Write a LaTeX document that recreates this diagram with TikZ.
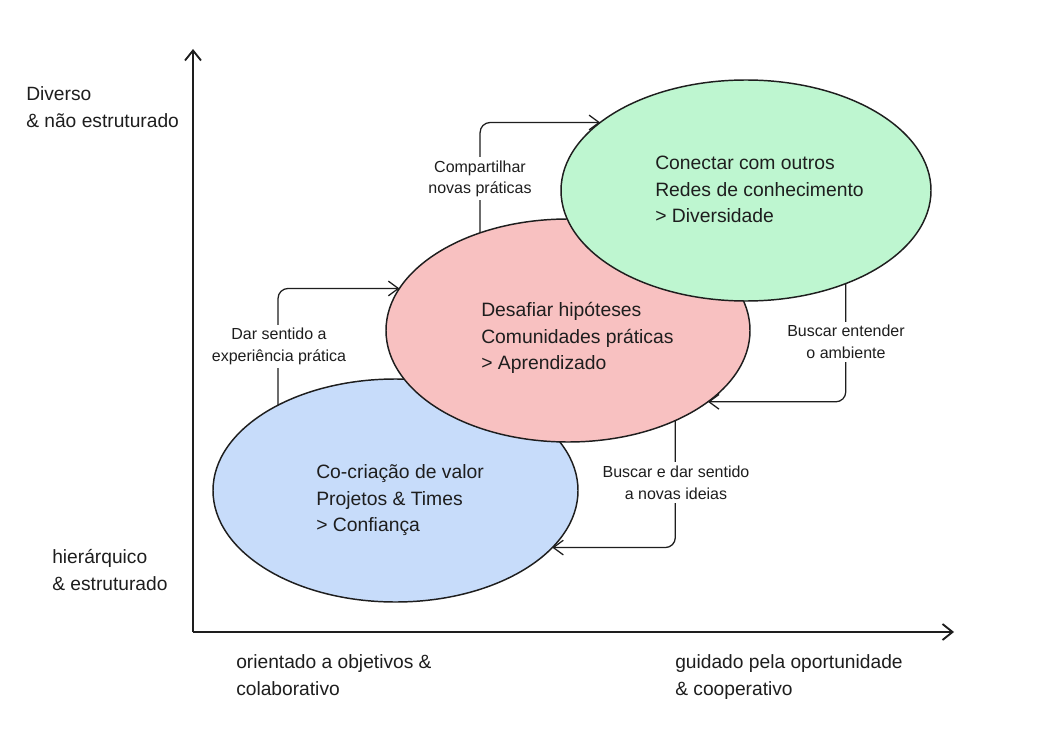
\documentclass[tikz,border=0pt]{standalone}
\usepackage{fontspec}
\setmainfont{Liberation Sans}
\usetikzlibrary{shapes.geometric,arrows.meta}
\definecolor{bluef}{HTML}{C7DCFA}
\definecolor{pinkf}{HTML}{F8C1C1}
\definecolor{greenf}{HTML}{BEF6D0}
\definecolor{ink}{HTML}{1E1E1E}
\tikzset{
  blob/.style={ellipse, draw=ink, line width=1.1pt, inner sep=0pt, outer sep=0pt},
  etext/.style={anchor=west, align=left, inner sep=0pt, text=ink, font=\fontsize{14.5}{19.9}\selectfont},
  conn/.style={draw=ink, line width=0.95pt, rounded corners=7.5pt, -{Straight Barb[length=7.5pt,width=11pt]}},
  clabel/.style={fill=white, align=center, inner sep=2.5pt, text=ink, font=\fontsize{12}{16.3}\selectfont},
  alabel/.style={anchor=west, align=left, inner sep=0pt, text=ink, font=\fontsize{14.4}{20.25}\selectfont},
  axisline/.style={draw=ink, line width=1.4pt, -{Straight Barb[length=7.5pt,width=12pt]}}
}
\begin{document}
\begin{tikzpicture}[x=0.75pt,y=-0.75pt]
\fill[white] (0,0) rectangle (1049,738);
\useasboundingbox (0,0) rectangle (1049,738);

% axes
\coordinate (O) at (193,632);
\coordinate (ytip) at (193,49);
\coordinate (xtip) at (954,632);
\draw[axisline] (O) -- (ytip);
\draw[axisline] (O) -- (xtip);

% ellipses
\node[blob, fill=bluef, minimum width=365*0.75pt, minimum height=223*0.75pt] (B) at (395.5,490.5) {};
\node[blob, fill=pinkf, minimum width=364*0.75pt, minimum height=223*0.75pt] (P) at (568,330.5) {};
\node[blob, fill=greenf, minimum width=370*0.75pt, minimum height=221*0.75pt] (G) at (746,190.5) {};

% ellipse texts
\node[etext] (Bt) at (316,500.2) {Co-criação de valor\\Projetos \& Times\\> Confiança};
\node[etext] (Pt) at (481,338) {Desafiar hipóteses\\Comunidades práticas\\> Aprendizado};
\node[etext] (Gt) at (655,189.5) {Conectar com outros\\Redes de conhecimento\\> Diversidade};

% connectors
\draw[conn] (P.132.46) |- (G.155.76);
\draw[conn] (B.144.41) |- (P.166.20);
\draw[conn] (G.317.09) |- (P.333.97);
\draw[conn] (P.320.68) |- (B.340.68);

% connector labels
\node[clabel] (l1) at (480,178.8) {Compartilhar\\novas práticas};
\node[clabel] (l2) at (279,346.5) {Dar sentido a\\experiência prática};
\node[clabel] (l3) at (846,342) {Buscar entender\\o ambiente};
\node[clabel] (l4) at (676,482.5) {Buscar e dar sentido\\a novas ideias};

% axis labels
\node[alabel] (a1) at (26,107.6) {Diverso\\\& não estruturado};
\node[alabel] (a2) at (52,570.5) {hierárquico\\\& estruturado};
\node[alabel] (a3) at (236,675.5) {orientado a objetivos \&\\colaborativo};
\node[alabel] (a4) at (675,677.5) {guidado pela oportunidade\\\& cooperativo};
\end{tikzpicture}
\end{document}
